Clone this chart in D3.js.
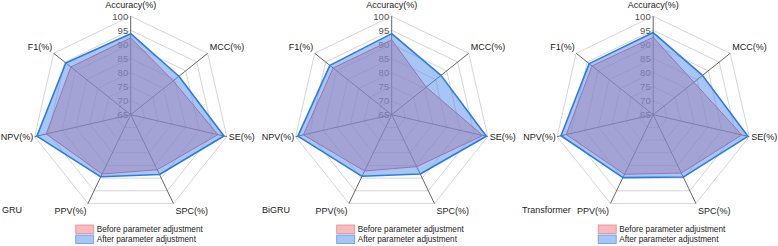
<!DOCTYPE html>
<html>
<head>
<meta charset="utf-8">
<script src="https://cdn.jsdelivr.net/npm/d3@7"></script>
<style>
  body { margin: 0; background: #fff; }
  svg { display: block; font-family: "Liberation Sans", Arial, sans-serif; }
</style>
</head>
<body>
<div id="chart"></div>
<script>
const indicators = ["Accuracy(%)", "MCC(%)", "SE(%)", "SPC(%)", "PPV(%)", "NPV(%)", "F1(%)"];
const models = ["GRU", "BiGRU", "Transformer"];
const ticks = [65, 70, 75, 80, 85, 90, 95, 100];
const seriesNames = ["Before parameter adjustment", "After parameter adjustment"];

const gruBefore = [92.3, 84.3, 96.8, 86.7, 88.4, 95.8, 92.2];
const gruAfter = [93.8, 86.9, 99.0, 88.6, 89.5, 99.2, 94.5];
const bigruBefore = [91.6, 80.7, 98.2, 85.5, 87.2, 97.2, 91.6];
const bigruAfter = [93.8, 87.4, 99.5, 88.4, 89.3, 99.2, 93.1];
const transBefore = [92.5, 83.5, 97.3, 88.0, 88.5, 96.7, 92.8];
const transAfter = [94.2, 87.4, 99.5, 89.6, 89.8, 98.6, 94.1];

const before = [gruBefore, bigruBefore, transBefore];
const after = [gruAfter, bigruAfter, transAfter];

const W = 778, H = 246;
const R = 98.5;
const CY = 114.7;
const centers = [130.7, 391.7, 653.2];
const panelX = [2, 262, 522];

const svg = d3.select("#chart").append("svg")
  .attr("width", W)
  .attr("height", H);

const rScale = d3.scaleLinear().domain([65, 100]).range([0, R]);
const n = indicators.length;
const angle = (i) => (i * 2 * Math.PI) / n;

const line = d3.lineRadial()
  .angle((d, i) => angle(i))
  .radius((d) => rScale(d))
  .curve(d3.curveLinearClosed);

models.forEach((name, k) => {
  const cx = centers[k];
  const g = svg.append("g").attr("transform", `translate(${cx}, ${CY})`);

  // grid rings
  ticks.slice(1).forEach((t) => {
    g.append("path")
      .attr("d", line(indicators.map(() => t)))
      .attr("fill", "none")
      .attr("stroke", "#d6d6d6")
      .attr("stroke-width", 1);
  });

  // axis lines
  indicators.forEach((ind, i) => {
    const a = angle(i);
    g.append("line")
      .attr("x1", 0).attr("y1", 0)
      .attr("x2", Math.sin(a) * R)
      .attr("y2", -Math.cos(a) * R)
      .attr("stroke", "#555")
      .attr("stroke-width", 0.9);
  });

  // tick labels on first axis
  g.selectAll(".tick")
    .data(ticks)
    .join("text")
    .attr("class", "tick")
    .attr("x", -2.5)
    .attr("y", (d) => -rScale(d))
    .attr("dy", "0.35em")
    .attr("text-anchor", "end")
    .attr("font-size", 9.5)
    .attr("fill", "#555")
    .text((d) => d);

  // before
  g.append("path")
    .attr("d", line(before[k]))
    .attr("fill", "rgba(240,120,125,0.5)")
    .attr("stroke", "#d9607a")
    .attr("stroke-width", 1);

  // after
  g.append("path")
    .attr("d", line(after[k]))
    .attr("fill", "rgba(80,140,235,0.5)")
    .attr("stroke", "#2d7be3")
    .attr("stroke-width", 1.6)
    .attr("stroke-linejoin", "round");

  // axis names
  indicators.forEach((ind, i) => {
    const a = angle(i);
    const s = Math.sin(a), c = Math.cos(a);
    let x = s * R, y = -c * R;
    let anchor = "middle";
    if (s > 0.1) { anchor = "start"; x += 2; }
    else if (s < -0.1) { anchor = "end"; x -= 1.5; }
    if (i === 0) y -= 11;
    else if (c > 0.3) y -= 6;
    else if (c < -0.3) y += 7;
    else y += 0.5;
    g.append("text")
      .attr("x", x)
      .attr("y", y)
      .attr("dy", "0.35em")
      .attr("text-anchor", anchor)
      .attr("font-size", 9)
      .attr("fill", "#222")
      .text(ind);
  });

  // model title
  svg.append("text")
    .attr("x", panelX[k])
    .attr("y", 210)
    .attr("dy", "0.35em")
    .attr("font-size", 9)
    .attr("fill", "#222")
    .text(name);

  // legend
  const lg = svg.append("g").attr("transform", `translate(${cx - 55}, 225)`);
  const swFill = ["rgba(240,120,125,0.5)", "rgba(80,140,235,0.5)"];
  const swStroke = ["#e58a92", "#5f9be8"];
  seriesNames.forEach((s, j) => {
    lg.append("rect")
      .attr("x", 0)
      .attr("y", j * 10)
      .attr("width", 18)
      .attr("height", 8.5)
      .attr("fill", swFill[j])
      .attr("stroke", swStroke[j])
      .attr("stroke-width", 0.8);
    lg.append("text")
      .attr("x", 21)
      .attr("y", j * 10 + 4.3)
      .attr("dy", "0.35em")
      .attr("font-size", 8.2)
      .attr("fill", "#222")
      .text(s);
  });
});
</script>
</body>
</html>
